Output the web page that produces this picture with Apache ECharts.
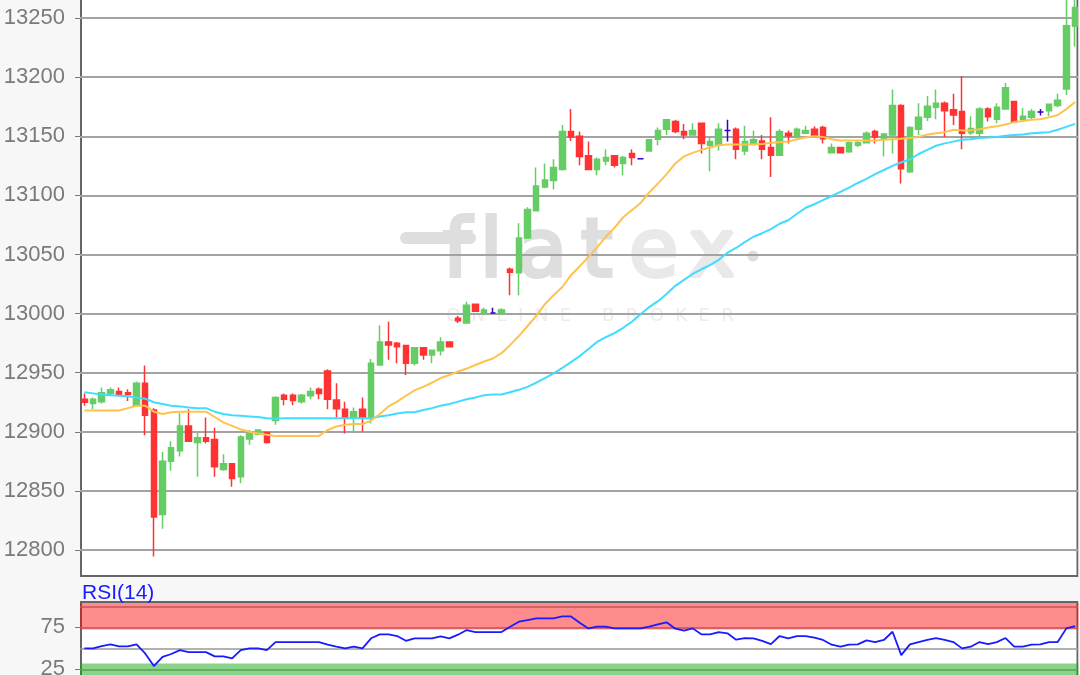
<!DOCTYPE html>
<html><head><meta charset="utf-8">
<style>html,body{margin:0;padding:0;background:#f7f7f7}#c{width:1080px;height:675px}</style>
<script src="https://cdn.jsdelivr.net/npm/echarts@6/dist/echarts.min.js"></script>
</head><body><div id="c"></div>
<script>
// [open, close, low, high]
const ohlc = [
[12927.5,12925,12922,12932.5],[12924,12927.5,12919,12929],[12925.5,12933,12924,12937.5],[12932.5,12935.5,12931,12937.5],[12934,12931,12930,12937.5],
[12933,12931.5,12926,12936],[12922,12941,12922,12942.5],[12941,12914,12897,12956],[12918.5,12828,12794.5,12920],[12830,12875,12818,12883],
[12875,12886.5,12867,12892],[12884,12905,12879,12916],[12905,12892,12892,12919],[12891,12895,12862,12899],[12895,12892,12890,12912],
[12893.5,12870.5,12862,12903.5],[12868,12873,12867,12881],[12873,12860.5,12853.5,12873],[12862,12895.5,12856.5,12897],[12894,12898.5,12889,12901.5],
[12898,12901.5,12897,12902],[12899.5,12891,12890,12899.5],[12909.5,12929,12906,12930],[12931,12927.5,12922.5,12932.5],[12931,12926.5,12922.5,12932.5],
[12925.5,12931,12924,12932],[12930.5,12934,12927.5,12937.5],[12936,12932.5,12927.5,12937.5],[12951.5,12927.5,12919,12953],[12927,12919.5,12912,12941],
[12919,12912,12898.5,12925.5],[12912,12917,12899,12920.5],[12919,12912,12900,12929],[12911.5,12958,12907,12961.5],[12956.5,12976,12956.5,12990],
[12976,12973.5,12961,12993],[12975,12972,12958,12976],[12973,12958,12948,12973.5],[12958,12971,12956,12971],[12971,12965,12961,12971],
[12965,12969,12958,12969],[12968.5,12976,12964.5,12980],[12976,12972,12972,12976],[12996,12994,12992,12998],[12992,13007,12992,13010],
[13008,13002,13002,13008],[13000,13003,12999.5,13005],[13000.5,13000.5,13000.5,13005],[13000,13003,12999.5,13004.5],[13037.5,13035,13015.5,13039],
[13034.5,13064,13015.5,13076.5],[13064,13088,13063.5,13090],[13087,13108,13087,13123.5],[13107,13113,13106,13127],[13112.5,13123.5,13105,13130.5],
[13122,13154,13121,13159.5],[13154,13149.5,13146,13173],[13150,13133,13125.5,13154],[13133.5,13122,13122,13145.5],[13122,13130.5,13117,13132],
[13129,13132,13125.5,13139],[13133.5,13125.5,13123.5,13133.5],[13127,13132,13117,13133.5],[13135.5,13132,13125.5,13139],[13131,13131,13131,13131],
[13137.5,13147,13137.5,13147],[13147.5,13155,13142.5,13157.5],[13156,13164,13151,13164.5],[13162.5,13154,13152.5,13164],[13154,13151,13147.5,13160.5],
[13151,13155,13151,13161],[13161,13144,13135.5,13161],[13142.5,13145.5,13120.5,13149.5],[13142.5,13156,13138,13161],[13155,13155,13145.5,13164],
[13156,13139,13130.5,13157.5],[13137.5,13145.5,13134,13159],[13144,13147,13144,13155],[13146,13139,13130.5,13151],[13140.5,13134,13115.5,13166],
[13134,13154,13134,13156],[13152.5,13150.5,13144,13155],[13150.5,13156,13149.5,13157.5],[13152.5,13155,13152.5,13159],[13156,13150.5,13150.5,13158.5],
[13157.5,13148,13144,13159],[13136,13140.5,13136,13144],[13140.5,13136,13136,13141],[13137,13144.5,13136,13145.5],[13142.5,13144.5,13141,13147],
[13144.5,13152.5,13144,13154],[13154,13149.5,13144,13155.5],[13148,13152,13133,13152.5],[13151,13176,13135.5,13189.5],[13176,13122.5,13110,13177],
[13120,13157.5,13119,13158.5],[13156,13166,13151,13178],[13166,13175.5,13163,13184],[13174.5,13178,13164.5,13189.5],[13178,13171.5,13149.5,13179.5],
[13172.5,13168,13159.5,13186],[13171,13152.5,13139,13201],[13153,13156.5,13151,13167],[13152.5,13173,13149.5,13174.5],[13173,13166.5,13162.5,13174.5],
[13164.5,13174.5,13161,13178],[13173,13191,13173,13195],[13179.5,13162.5,13162.5,13179.5],[13164.5,13167,13164,13174],[13166,13171,13164.5,13173],
[13170.5,13170.5,13167.5,13173],[13171.5,13177,13167,13177],[13176,13180.5,13174.5,13186],[13190,13243.5,13185,13270],[13243,13259,13226,13270]];
const maFast = [12918,12918,12918,12918,12918,12920,12922,12922,12917,12915,12916.5,12917,12917,12917,12917,12912.5,12908,12905,12902,12900,12898.5,12897.5,12896.5,
12896.5,12896.5,12896.5,12896.5,12896.5,12901.5,12904.5,12906,12906.5,12906.5,12909.5,12915,12921.5,12925.5,12930.5,12935,12938,12941.5,12945.5,12948,12951,12953.5,12956.5,12959.5,12962,12966.5,12973.5,
12981,12989.5,12998,13008,13015.5,13022.5,13032.5,13040,13048,13056,13065,13072.5,13081.5,13087.5,13093.5,13102.5,13110,13118,13127,13133,13136,13138.5,
13140.5,13142.5,13143,13143,13143,13143,13143.5,13144.5,13145,13145.5,13147.5,13149,13150,13149.5,13147.5,13146.5,13146.5,13146.5,13146.5,13146.5,13147,
13147.5,13148,13148.5,13149.5,13151.5,13152.5,13153.5,13155.5,13155,13155,13156,13157.5,13158.5,13160,13162,13163,13164,13164.5,13166,13168,13173,13179];
const maSlow = [12933.5,12932.5,12931.5,12931,12930.5,12930,12929,12928,12925,12923.5,12922,12921.5,12920.5,12920,12920,12917,12915,12914,12913.5,12913,12912.5,12911.5,12911,
12911.5,12911.5,12911.5,12911.5,12911.5,12911.5,12911.5,12911.5,12911.5,12911.5,12911.5,12913,12914,12915.5,12916.5,12916.5,12918.5,12920,12922,12923.5,12925.5,12927.5,12929,12931,12931.5,12931.5,12933.5,
12935.5,12938,12941.5,12945.5,12949.5,12954,12959,12964,12970,12976,12980,12983.5,12988,12993,12999.5,13005.5,13010.5,13016.5,13023.5,13028.5,13033.5,13037.5,
13041,13045.5,13051.5,13055.5,13060.5,13065,13068,13071.5,13076,13079,13084.5,13089.5,13092.5,13096,13099.5,13103,13106.5,13110.5,13114,13118,13121.5,
13125,13128,13130.5,13135,13138.5,13142,13144,13145.5,13147,13147.5,13148.5,13149,13149.5,13150.5,13151,13151.5,13152.5,13153,13153.5,13155.5,13158,13160.5];
const rsi = [50,50,52.8,54.8,52.4,52.4,54.8,44,29,40,43.3,48,45.6,45.6,45.6,40.5,40.5,38,48,50,50,48,57.5,57.5,57.5,57.5,57.5,57.5,54.4,52,50,52,50,
62,66.7,66.7,64.7,59,62,62,62,64.3,62,66.3,71.8,69.4,69.4,69.4,69.4,75.8,81.7,83.7,85.7,85.7,85.7,88,88,80.6,73.8,75.8,75.8,73.8,73.8,73.8,73.8,75.8,78.6,81,73.4,71,73.8,66.7,66.7,69.4,
67.9,60.3,62.3,62,59,55,64.7,62,64.7,64.7,62.7,60,54.4,52,54.4,54.8,59.5,57.5,60,69.8,42,54.8,57.5,60,62.3,60,57.5,50,52,57.5,55,57.5,62.3,52,52,54.4,54.8,57.5,57.5,73.8,76.6];
const categories = ohlc.map((_, i) => i + 1);
const priceTicks = [12800,12850,12900,12950,13000,13050,13100,13150,13200,13250];
const rsiGrid = [25,50,75,100];
const rsiLabels = [25,75];
const overbought = 72.5, oversold = 32;
const wordmarkLetters = ['f','l','a','t','e','x'];
const subline = ['ONLINE','BROKER'];

const grey = '#7a7a7a', frame = '#666', wmDark = '#dedede', wmLight = '#e9e9e9';
const wmX = [443,480,518,581,629,688];
const wm = wordmarkLetters.map((ch, i) => ({type:'text',z:1,x:wmX[i],y:215,
  style:{text:ch,fill:i<4?wmDark:wmLight,stroke:i<4?wmDark:wmLight,lineWidth:4,font:'80px "DejaVu Sans"'}}));
const chart = echarts.init(document.getElementById('c'), null, {renderer:'canvas'});
const ax = (i) => ({type:'category',gridIndex:i,data:categories,boundaryGap:true,show:false});
chart.setOption({
  animation:false,
  backgroundColor:'#f7f7f7',
  graphic:[
    {type:'rect',z:0,shape:{x:81,y:-5,width:996.5,height:581},style:{fill:'#fff',stroke:frame,lineWidth:2}},
    {type:'rect',z:0,shape:{x:81,y:602,width:996.5,height:90},style:{fill:'#fff',stroke:frame,lineWidth:2}},
    {type:'line',z:1,shape:{x1:406,y1:238,x2:470,y2:238},style:{stroke:wmDark,lineWidth:12,lineCap:'round'}},
    ...wm,
    {type:'circle',z:1,shape:{cx:753,cy:256,r:5.5},style:{fill:wmDark}},
    {type:'text',z:1,x:446,y:307,style:{text:subline[0].split('').join('  '),fill:'#ececec',font:'18px "DejaVu Sans"'}},
    {type:'text',z:1,x:602,y:307,style:{text:subline[1].split('').join('  '),fill:'#ececec',font:'18px "DejaVu Sans"'}},
    {type:'text',z:5,x:82,y:583,style:{text:'RSI(14)',fill:'#1a1aff',font:'21px "Liberation Sans"'}},
    {type:'rect',z:9,shape:{x:1078.5,y:0,width:3,height:675},style:{fill:'#f7f7f7'}}
  ],
  grid:[
    {left:80,top:0,width:999.4,height:576,show:false,outerBoundsMode:'none'},
    {left:80,top:603,width:999.4,height:87.4,show:false,outerBoundsMode:'none'}
  ],
  xAxis:[ax(0),ax(1)],
  yAxis:[
    {type:'value',gridIndex:0,min:12778,max:13265.3,z:2,
     axisLine:{show:false},
     axisTick:{show:true,length:5,lineStyle:{color:grey},customValues:priceTicks},
     axisLabel:{color:grey,fontFamily:'Liberation Sans',fontSize:22,margin:15,padding:[3,0,0,0],customValues:priceTicks,formatter:v=>String(v)},
     splitLine:{show:true,lineStyle:{color:'#a3a3a3',width:2}}},
    {type:'value',gridIndex:1,min:0,max:104,z:2,
     axisLine:{show:false},
     axisTick:{show:true,length:5,lineStyle:{color:grey},customValues:rsiLabels},
     axisLabel:{color:grey,fontFamily:'Liberation Sans',fontSize:22,margin:15,padding:[3,0,0,0],customValues:rsiLabels,formatter:v=>String(v)},
     splitLine:{show:false}}
  ],
  series:[
    {type:'candlestick',name:'Kurs',xAxisIndex:0,yAxisIndex:0,z:3,data:ohlc,barWidth:6,
     itemStyle:{color:'#66cc66',color0:'#ff3333',borderColor:'#66cc66',borderColor0:'#ff3333',borderColorDoji:'#3300cc',borderWidth:1.5}},
    {type:'line',name:'MA slow',xAxisIndex:0,yAxisIndex:0,z:4,data:maSlow,showSymbol:false,lineStyle:{color:'#40dcff',width:2}},
    {type:'line',name:'MA fast',xAxisIndex:0,yAxisIndex:0,z:4,data:maFast,showSymbol:false,lineStyle:{color:'#ffc34d',width:2}},
    {type:'line',name:'RSI',xAxisIndex:1,yAxisIndex:1,z:4,data:rsi,showSymbol:false,lineStyle:{color:'#1a1aff',width:1.8},
     markLine:{silent:true,symbol:'none',z:2,label:{show:false},lineStyle:{color:'#999',width:1.5,type:'solid'},
       data:rsiGrid.map(v=>({yAxis:v}))},
     markArea:{silent:true,z:3,data:[
       [{yAxis:overbought,itemStyle:{color:'rgba(255,0,0,0.45)'}},{yAxis:104}],
       [{yAxis:0,itemStyle:{color:'rgba(20,170,20,0.5)'}},{yAxis:oversold}]
     ]}}
  ]
});
</script></body></html>
